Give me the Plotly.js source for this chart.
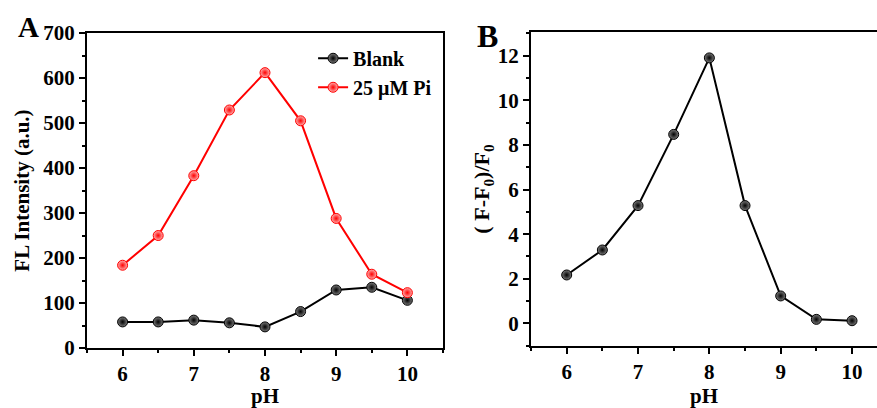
<!DOCTYPE html>
<html><head><meta charset="utf-8">
<script src="https://cdn.plot.ly/plotly-3.0.1.min.js"></script>
<style>html,body{margin:0;padding:0;background:#fff}#plot{width:877px;height:408px}</style>
</head><body><div id="plot"></div>
<script>
const pH = [6, 6.5, 7, 7.5, 8, 8.5, 9, 9.5, 10];
const blank = [58, 58, 62, 56, 47, 81, 129, 135, 106];
const pi25 = [184, 250, 383, 529, 612, 505, 288, 164, 123];
const ratio = [2.17, 3.29, 5.28, 8.47, 11.9, 5.28, 1.23, 0.18, 0.12];
const xTicks = [6, 7, 8, 9, 10];
const yTicksA = [0, 100, 200, 300, 400, 500, 600, 700];
const yTicksB = [0, 2, 4, 6, 8, 10, 12];

const FONT = "Liberation Serif, Times New Roman, serif";
const tickFont = {family: FONT, size: 21, color: '#000', weight: 700};
const titleFont = {family: FONT, size: 21, color: '#000', weight: 700};
const bold = v => '<b>' + v + '</b>';

const blackMarker = {size: 10, color: '#7a7a7a', gradient: {type: 'radial', color: '#000'}, line: {color: '#000', width: 1}};
const redMarker = {size: 10, color: '#ffb0b0', gradient: {type: 'radial', color: '#ff0000'}, line: {color: '#ff0000', width: 1}};

const traces = [
  {x: pH, y: blank, name: bold('Blank'), type: 'scatter', mode: 'lines+markers', line: {color: '#000', width: 2}, marker: blackMarker, xaxis: 'x', yaxis: 'y'},
  {x: pH, y: pi25, name: bold('25 μM Pi'), type: 'scatter', mode: 'lines+markers', line: {color: '#ff0000', width: 2}, marker: redMarker, xaxis: 'x', yaxis: 'y'},
  {x: pH, y: ratio, name: 'ratio', showlegend: false, type: 'scatter', mode: 'lines+markers', line: {color: '#000', width: 2}, marker: blackMarker, xaxis: 'x2', yaxis: 'y2'}
];

function xAxis(domain, range, anchor) {
  return {
    domain: domain, range: range, anchor: anchor,
    tickmode: 'array', tickvals: xTicks, ticktext: xTicks.map(bold),
    ticks: 'outside', ticklen: 6, tickwidth: 2, tickcolor: '#000',
    minor: {dtick: 0.5, tick0: 5.5, ticks: 'outside', ticklen: 3, tickwidth: 2, tickcolor: '#000'},
    showline: true, linecolor: '#000', linewidth: 2, mirror: true,
    showgrid: false, zeroline: false, tickfont: tickFont,
    title: {text: bold('pH'), font: titleFont, standoff: 6}
  };
}

const layout = {
  width: 877, height: 408,
  margin: {l: 0, r: 0, t: 0, b: 0},
  paper_bgcolor: '#fff', plot_bgcolor: '#fff',
  showlegend: true,
  legend: {x: 0.357, y: 0.905, xanchor: 'left', yanchor: 'top', font: {family: FONT, size: 20, color: '#000', weight: 700}, bgcolor: 'rgba(0,0,0,0)', tracegroupgap: 0, itemwidth: 30},
  xaxis: xAxis([0.0992, 0.5051], [5.5, 10.5], 'y'),
  yaxis: {
    domain: [0.147, 0.919], range: [0, 700], anchor: 'x',
    tickmode: 'array', tickvals: yTicksA, ticktext: yTicksA.map(bold),
    ticks: 'outside', ticklen: 6, tickwidth: 2, tickcolor: '#000',
    minor: {dtick: 50, tick0: 0, ticks: 'outside', ticklen: 3, tickwidth: 2, tickcolor: '#000'},
    showline: true, linecolor: '#000', linewidth: 2, mirror: true,
    showgrid: false, zeroline: false, tickfont: tickFont,
    title: {text: bold('FL Intensity (a.u.)'), font: titleFont, standoff: 8}
  },
  xaxis2: xAxis([0.6055, 1.0], [5.5, 10.35], 'y2'),
  yaxis2: {
    domain: [0.1527, 0.921], range: [-1, 13.05], anchor: 'x2',
    tickmode: 'array', tickvals: yTicksB, ticktext: yTicksB.map(bold),
    ticks: 'outside', ticklen: 6, tickwidth: 2, tickcolor: '#000',
    minor: {dtick: 1, tick0: 0, ticks: 'outside', ticklen: 3, tickwidth: 2, tickcolor: '#000'},
    showline: true, linecolor: '#000', linewidth: 2, mirror: false,
    showgrid: false, zeroline: false, tickfont: tickFont,
    title: {text: bold('( F-F<sub>0</sub>)/F<sub>0</sub>'), font: {family: FONT, size: 22, color: '#000', weight: 700}, standoff: 2}
  },
  annotations: [
    {text: bold('A'), xref: 'paper', yref: 'paper', x: 0.018, y: 0.935, xanchor: 'left', yanchor: 'middle', showarrow: false, font: {family: FONT, size: 29, color: '#000', weight: 700}},
    {text: bold('B'), xref: 'paper', yref: 'paper', x: 0.542, y: 0.912, xanchor: 'left', yanchor: 'middle', showarrow: false, font: {family: FONT, size: 32, color: '#000', weight: 700}}
  ]
};

Plotly.newPlot('plot', traces, layout, {displayModeBar: false, staticPlot: true});
</script></body></html>
